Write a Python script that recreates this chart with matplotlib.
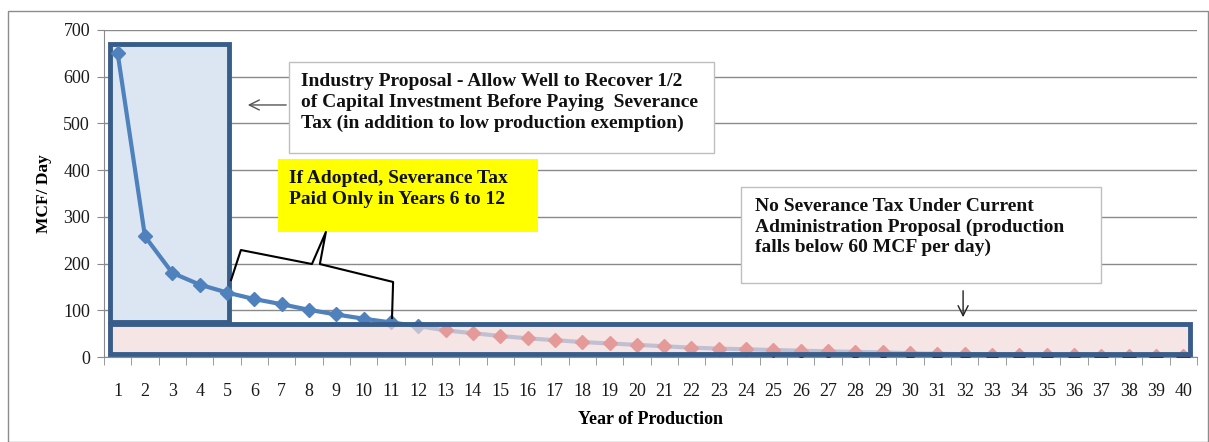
import matplotlib
matplotlib.use("Agg")
import matplotlib.pyplot as plt
from matplotlib.patches import Rectangle
import numpy as np

years = list(range(1, 41))
mcf_per_day = [650, 258, 180, 155, 138, 124, 113, 101, 91, 82,
               74, 66, 57, 51, 45, 40, 36, 32, 29, 26,
               23, 20, 18, 16.5, 15, 13.5, 12, 11, 10, 8,
               7, 6, 5, 5, 4, 4, 3, 3, 3, 2]
red_start_year = 13
y_ticks = [0, 100, 200, 300, 400, 500, 600, 700]

serif = ["Liberation Serif", "DejaVu Serif"]
plt.rcParams['font.family'] = serif

W, H = 1209, 442
fig = plt.figure(figsize=(W / 100, H / 100), dpi=100)
ax = fig.add_axes([104 / W, (H - 357) / H, (1197 - 104) / W, (357 - 30) / H])

# outer chart frame
fig.patches.append(Rectangle((8 / W, 0), (W - 9) / W, (H - 11) / H, transform=fig.transFigure,
                             fill=False, edgecolor="#8c8c8c", linewidth=1.0))

ax.set_xlim(0.5, 40.5)
ax.set_ylim(0, 700)

ax.set_yticks(y_ticks)
ax.yaxis.grid(True, color="#8a8a8a", linewidth=1.0)
ax.set_axisbelow(True)
ax.set_xticks(years)
ax.set_xticklabels([str(y) for y in years])
ax.set_xticks(np.arange(0.5, 41, 1), minor=True)
ax.tick_params(axis='x', which='major', length=0, pad=19, labelsize=13)
ax.tick_params(axis='x', which='minor', length=6, color="#8a8a8a")
ax.tick_params(axis='y', length=5, color="#8a8a8a", labelsize=13, pad=5)
for lab in ax.get_xticklabels() + ax.get_yticklabels():
    lab.set_color("#1a1a1a")
for s in ['top', 'right']:
    ax.spines[s].set_visible(False)
ax.spines['left'].set_color("#8a8a8a")
ax.spines['bottom'].set_color("#8a8a8a")

ax.set_ylabel("MCF/ Day", fontweight='bold', fontsize=12.5, labelpad=8)
ax.set_xlabel("Year of Production", fontweight='bold', fontsize=13, labelpad=8)

blue = "#4F81BD"
border = "#385D8A"

# blue box (behind the line)
ax.add_patch(Rectangle((0.72, 75), 5.08 - 0.72, 670 - 75, facecolor="#DCE6F2",
                       edgecolor=border, linewidth=3.5, zorder=1.5))

yrs = np.array(years)
vals = np.array(mcf_per_day, dtype=float)
ax.plot(yrs, vals, color=blue, linewidth=3, zorder=3)
mask_b = yrs < red_start_year
ax.plot(yrs[mask_b], vals[mask_b], linestyle='none', marker='D', markersize=7,
        color=blue, zorder=3.2)
ax.plot(yrs[~mask_b], vals[~mask_b], linestyle='none', marker='D', markersize=7,
        color="#C00000", zorder=3.2)

# pink box over the line
ax.add_patch(Rectangle((0.72, 6), 40.24 - 0.72, 70.7 - 6, facecolor="#F2DCDB",
                       alpha=0.7, edgecolor='none', zorder=4))
ax.add_patch(Rectangle((0.72, 6), 40.24 - 0.72, 70.7 - 6, fill=False,
                       edgecolor=border, linewidth=3.5, zorder=4.1))

# Industry proposal box
ax.add_patch(Rectangle((7.27, 436.7), 22.82 - 7.27, 631.6 - 436.7, facecolor="white",
                       edgecolor="#bfbfbf", linewidth=1.0, zorder=5))
ax.text(7.7, 608, "Industry Proposal - Allow Well to Recover 1/2\n"
        "of Capital Investment Before Paying  Severance\n"
        "Tax (in addition to low production exemption)",
        fontsize=14, fontweight='bold', va='top', ha='left', linespacing=1.3,
        color="#111111", zorder=6)
ax.annotate("", xy=(5.66, 539.5), xytext=(7.27, 539.5),
            arrowprops=dict(arrowstyle='->', color="#555555", lw=1.0,
                            mutation_scale=18), zorder=5)

# Yellow box
ax.add_patch(Rectangle((6.87, 267.6), 16.38 - 6.87, 423.9 - 267.6, facecolor="#FFFF00",
                       edgecolor='none', zorder=5))
ax.text(7.27, 400, "If Adopted, Severance Tax\nPaid Only in Years 6 to 12",
        fontsize=14, fontweight='bold', va='top', ha='left', linespacing=1.3,
        color="#111111", zorder=6)

# brace
bx = [5.15, 5.51, 8.11, 8.62, 8.40, 11.08, 11.04]
by = [164.8, 229, 199, 267.6, 199, 160.6, 83.5]
ax.plot(bx, by, color="black", linewidth=1.5, zorder=6, solid_joinstyle='round')

# No severance box
ax.add_patch(Rectangle((23.81, 158.4), 36.99 - 23.81, 364 - 158.4, facecolor="white",
                       edgecolor="#bfbfbf", linewidth=1.0, zorder=5))
ax.text(24.32, 341, "No Severance Tax Under Current\n"
        "Administration Proposal (production\n"
        "falls below 60 MCF per day)",
        fontsize=14, fontweight='bold', va='top', ha='left', linespacing=1.27,
        color="#111111", zorder=6)
ax.annotate("", xy=(31.94, 79.2), xytext=(31.94, 147.7),
            arrowprops=dict(arrowstyle='->', color="#222222", lw=1.0,
                            mutation_scale=18), zorder=5)

fig.savefig("out.png", dpi=100)
